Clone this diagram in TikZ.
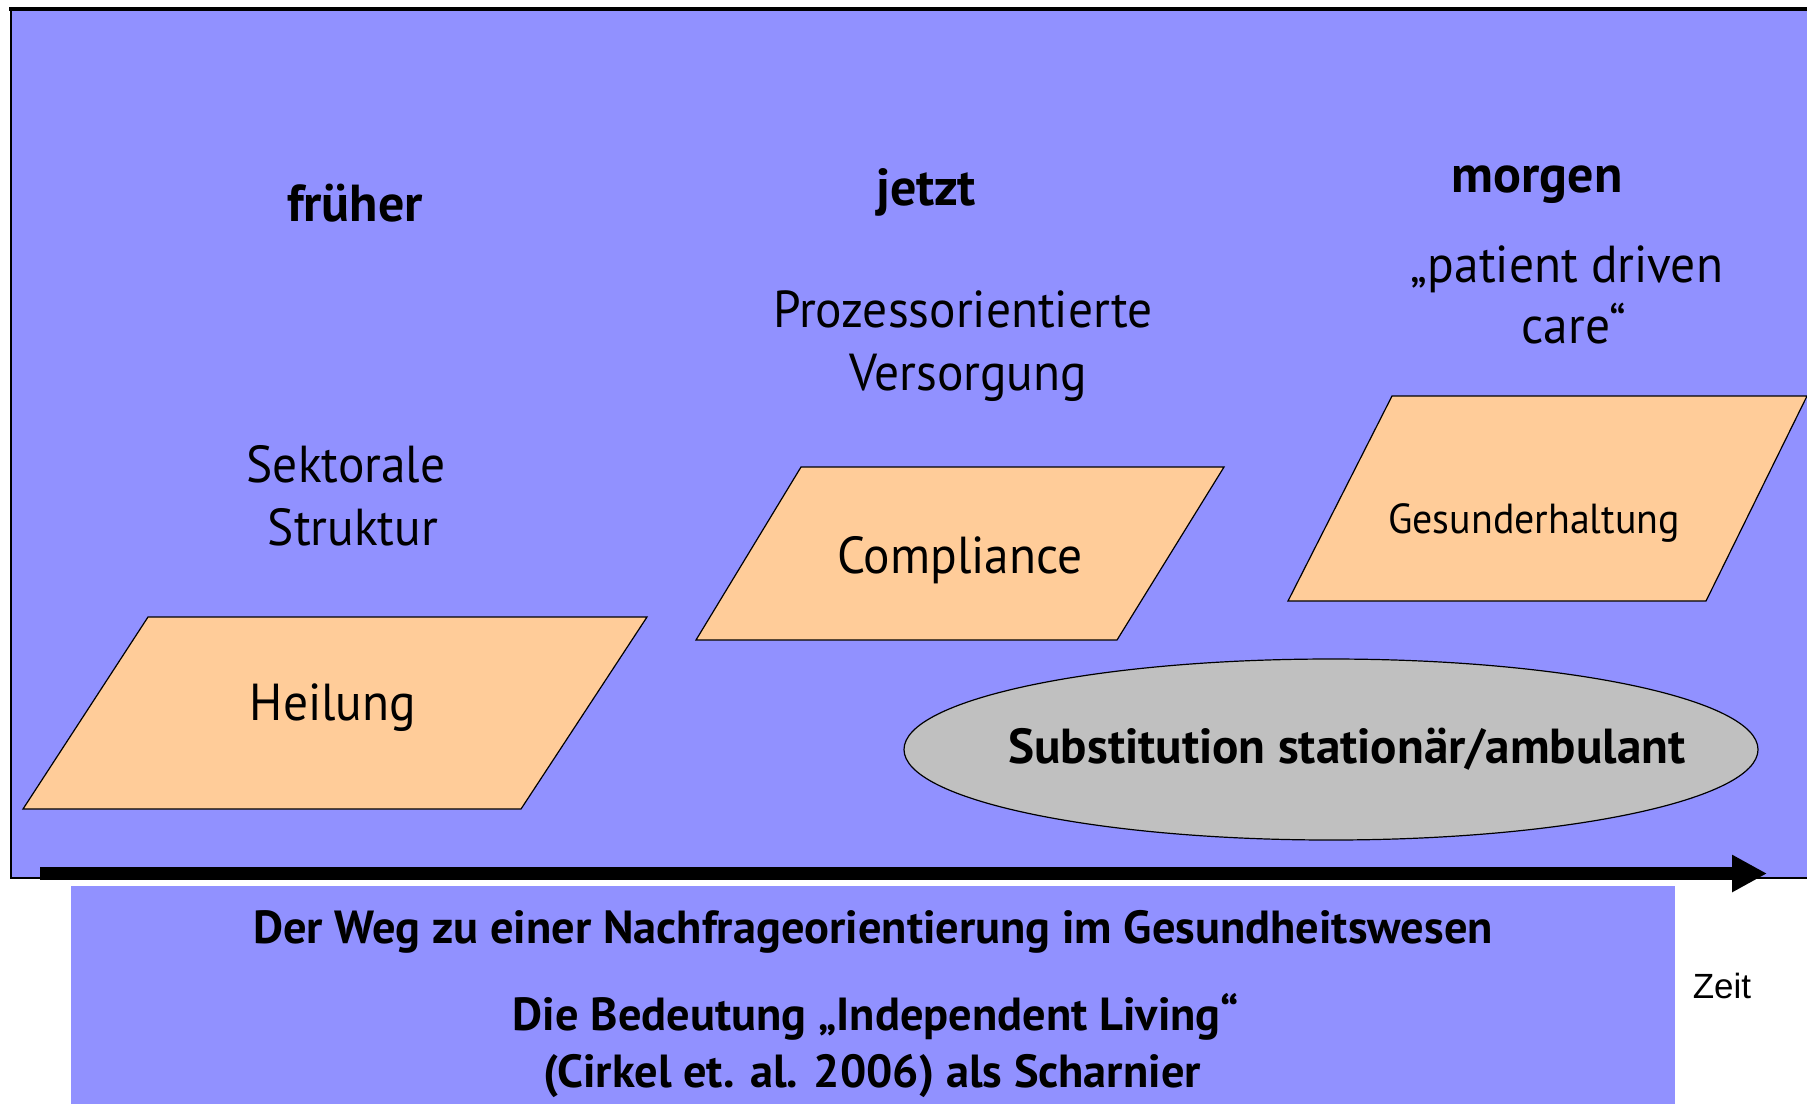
\documentclass[tikz,border=0pt]{standalone}
\usepackage{fontspec}
\setmainfont{PT Sans}[UprightFeatures={FakeStretch=0.95}]
\newfontfamily\arialfont{Liberation Sans}
\usetikzlibrary{arrows.meta,shapes.geometric}
\definecolor{slideblue}{RGB}{145,145,255}
\definecolor{peach}{RGB}{255,204,153}
\definecolor{pillgrey}{RGB}{192,192,192}
\tikzset{
  head/.style={anchor=base,inner sep=0pt,font=\bfseries\fontsize{26}{30}\selectfont},
  phrase/.style={anchor=base,inner sep=0pt,font=\fontsize{26}{30}\selectfont},
  card/.style={fill=peach,draw=black,line width=.6pt},
  caption/.style={anchor=base,inner sep=0pt,font=\bfseries\fontsize{23.2}{28}\selectfont},
}
\begin{document}
\begin{tikzpicture}[x=.5pt,y=-.5pt]
  \useasboundingbox (0,0) rectangle (1807,1104);
  % slide background
  \draw[fill=slideblue,line width=.6pt] (11,9) rectangle (1812,878);
  \draw[line width=1.6pt] (9,9) -- (1807,9);
  \fill[slideblue] (71,886) rectangle (1675,1104);
  % the three stages
  \draw[card] (148,617) -- (647,617) -- (521,809) -- (23,809) -- cycle;
  \draw[card] (801,467) -- (1224,467) -- (1117,640) -- (696,640) -- cycle;
  \draw[card] (1392,396) -- (1807,396) -- (1706,601) -- (1288,601) -- cycle;
  \node[draw,fill=pillgrey,ellipse,line width=.6pt,inner sep=0pt,minimum width=427pt,minimum height=90.5pt] (pill) at (1331,749.5) {};
  \node[head] (frueher) at (355,221) {früher};
  \node[head] (jetzt) at (926,205) {jetzt};
  \node[head] (morgen) at (1537,192) {morgen};
  \node[phrase] (sektorA) at (346,482) {Sektorale};
  \node[phrase] (sektorB) at (353,545) {Struktur};
  \node[phrase] (prozessA) at (963,327) {Prozessorientierte};
  \node[phrase] (prozessB) at (968,390) {Versorgung};
  \node[phrase] (patientA) at (1567,282) {„patient driven};
  \node[phrase] (patientB) at (1574,343) {care“};
  \node[phrase] (heilung) at (333,720) {Heilung};
  \node[phrase] (compliance) at (960,573) {Compliance};
  \node[phrase,font=\fontsize{21}{24}\selectfont] (gesund) at (1534,533) {Gesunderhaltung};
  \node[head,font=\bfseries\fontsize{24.6}{28}\selectfont] (subst) at (1347,763) {Substitution stationär/ambulant};
  % time axis
  \coordinate (tstart) at (40,873.5);
  \coordinate (tend) at (1767,873.5);
  \draw[line width=6.5pt,-{Triangle[length=17.5pt,width=17.5pt]}] (tstart) -- (tend);
  \node[anchor=base,inner sep=0pt,font=\arialfont\fontsize{17.5}{20}\selectfont] (zeit) at (1722,998) {Zeit};
  % captions below
  \node[caption] (wegA) at (873,943) {Der Weg zu einer Nachfrageorientierung im Gesundheitswesen};
  \node[caption] (wegB) at (876,1030) {Die Bedeutung „Independent Living“};
  \node[caption] (wegC) at (872,1087) {(Cirkel et. al. 2006) als Scharnier};
\end{tikzpicture}
\end{document}
